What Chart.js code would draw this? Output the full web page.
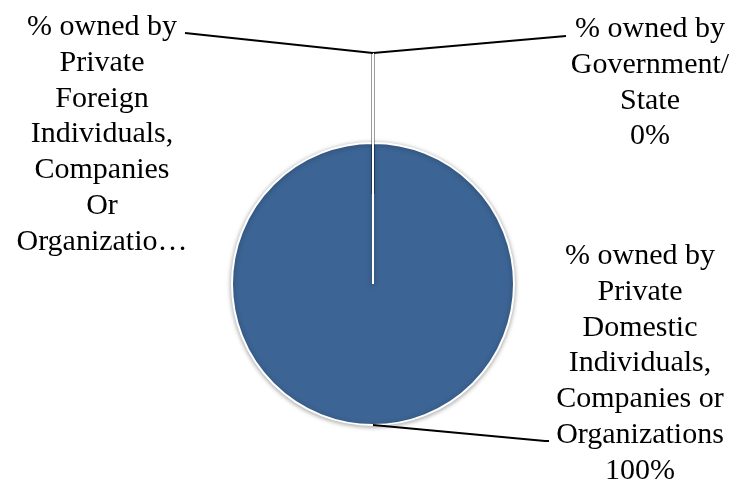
<!DOCTYPE html>
<html>
<head>
<meta charset="utf-8">
<title>Ownership</title>
<script src="https://cdn.jsdelivr.net/npm/chart.js@4.4.1/dist/chart.umd.min.js"></script>
<style>
  html, body { margin: 0; padding: 0; background: #fff; }
  #wrap { width: 738px; height: 482px; position: relative; }
</style>
</head>
<body>
<div id="wrap"><canvas id="ownershipPie"></canvas></div>
<script>
// Ownership split (percent)
const categories = [
  '% owned by Government/State',
  '% owned by Private Domestic Individuals, Companies or Organizations',
  '% owned by Private Foreign Individuals, Companies Or Organizations'
];
const shares = [0, 100, 0];

// Wrapped label text for each slice; showValue adds the percentage line
const labelLines = [
  ['% owned by', 'Government/', 'State'],
  ['% owned by', 'Private', 'Domestic', 'Individuals,', 'Companies or', 'Organizations'],
  ['% owned by', 'Private', 'Foreign', 'Individuals,', 'Companies', 'Or', 'Organizatio…']
];
const showValue = [true, true, false];

const SLICE_COLOR = '#3C6494';
const EXPLODE = 90;          // pull-out distance for the empty slices
const FONT = '30px "Liberation Serif", "Times New Roman", serif';
const LINE_H = 35.8;

// where each label block sits: text centre, first baseline, leader end
const labelPos = [
  { cx: 650, top: 37,  lx: 566, ly: 36,  tail: 0 },
  { cx: 640, top: 264, lx: 545, ly: 441, tail: 4 },
  { cx: 102, top: 35,  lx: 185, ly: 33,  tail: 0 }
];

const shadowPlugin = {
  id: 'pieShadow',
  beforeDatasetDraw(chart) {
    const ctx = chart.ctx;
    ctx.save();
    ctx.shadowColor = 'rgba(0,0,0,0.35)';
    ctx.shadowBlur = 5;
    ctx.shadowOffsetX = 0;
    ctx.shadowOffsetY = 1;
  },
  afterDatasetDraw(chart) {
    chart.ctx.restore();
  }
};

const calloutPlugin = {
  id: 'callouts',
  afterDatasetsDraw(chart) {
    const ctx = chart.ctx;
    const arcs = chart.getDatasetMeta(0).data;
    ctx.save();
    arcs.forEach(function(arc, i) {
      const p = arc.getProps(['x', 'y', 'startAngle', 'endAngle', 'outerRadius'], true);
      const mid = (p.startAngle + p.endAngle) / 2;
      const cos = Math.cos(mid), sin = Math.sin(mid);
      let ax, ay;

      if (shares[i] === 0) {
        // empty slice: exploded outward, shows up as a thin white spoke
        const ox = p.x + cos * EXPLODE;
        const oy = p.y + sin * EXPLODE;
        ax = ox + cos * p.outerRadius;
        ay = oy + sin * p.outerRadius;
        ctx.lineCap = 'butt';
        ctx.strokeStyle = 'rgba(0,0,0,0.22)';
        ctx.lineWidth = 4;
        ctx.beginPath(); ctx.moveTo(ox, oy); ctx.lineTo(ax, ay); ctx.stroke();
        ctx.strokeStyle = '#ffffff';
        ctx.lineWidth = 2;
        ctx.beginPath(); ctx.moveTo(ox, oy); ctx.lineTo(ax, ay); ctx.stroke();
      } else {
        ax = p.x + cos * p.outerRadius;
        ay = p.y + sin * p.outerRadius;
      }

      // leader line
      const lp = labelPos[i];
      ctx.strokeStyle = '#000';
      ctx.lineWidth = 2;
      ctx.beginPath();
      ctx.moveTo(ax, ay);
      ctx.lineTo(lp.lx, lp.ly);
      if (lp.tail) ctx.lineTo(lp.lx + lp.tail, lp.ly);
      ctx.stroke();

      // label text
      const lines = labelLines[i].slice();
      if (showValue[i]) lines.push(shares[i] + '%');
      ctx.font = FONT;
      ctx.fillStyle = '#000';
      ctx.textAlign = 'center';
      ctx.textBaseline = 'alphabetic';
      lines.forEach(function(t, k) {
        ctx.fillText(t, lp.cx, lp.top + k * LINE_H);
      });
    });
    ctx.restore();
  }
};

const ctx = document.getElementById('ownershipPie').getContext('2d');
new Chart(ctx, {
  type: 'pie',
  data: {
    labels: categories,
    datasets: [{
      data: shares,
      backgroundColor: SLICE_COLOR,
      borderColor: '#ffffff',
      borderWidth: 2,
      hoverOffset: 0
    }]
  },
  options: {
    responsive: true,
    maintainAspectRatio: false,
    animation: false,
    layout: { padding: { top: 142, bottom: 56, left: 8, right: 0 } },
    plugins: {
      legend: { display: false },
      tooltip: { enabled: false }
    },
    events: []
  },
  plugins: [shadowPlugin, calloutPlugin]
});
</script>
</body>
</html>
